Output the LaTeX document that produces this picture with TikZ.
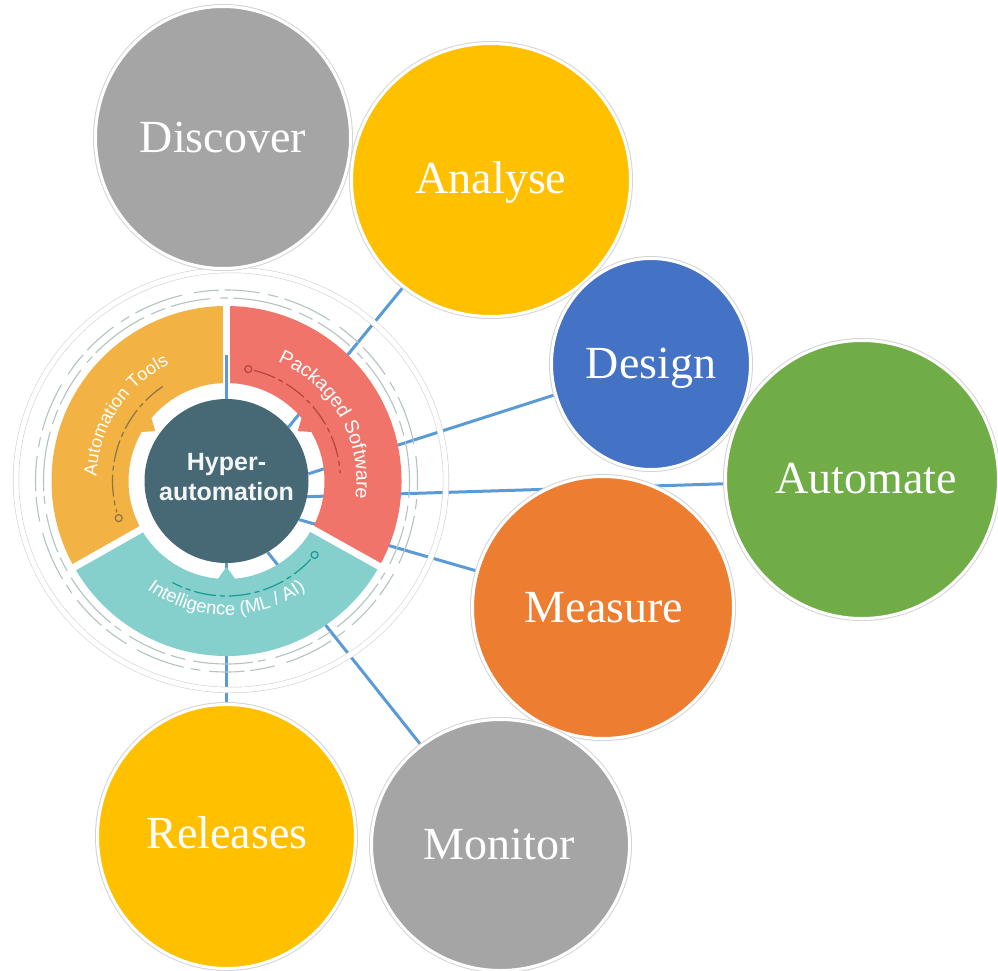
\documentclass[tikz,border=0pt]{standalone}
\usepackage{fontspec}
\setmainfont{Liberation Serif}
\newfontfamily\hubfont{Liberation Sans}
\usetikzlibrary{shapes.geometric,decorations.text}
\definecolor{grayC}{HTML}{A5A5A5}
\definecolor{yellowC}{HTML}{FFC000}
\definecolor{blueC}{HTML}{4472C4}
\definecolor{greenC}{HTML}{70AD47}
\definecolor{orangeC}{HTML}{ED7D31}
\definecolor{connC}{HTML}{5B9BD5}
\definecolor{hubC}{HTML}{466975}
\definecolor{segO}{HTML}{F2B244}
\definecolor{segR}{HTML}{F1746B}
\definecolor{segT}{HTML}{85D0CD}
\definecolor{decoO}{HTML}{8A7448}
\definecolor{decoR}{HTML}{B5443F}
\definecolor{decoT}{HTML}{169A92}
\definecolor{dashC}{HTML}{B3C2C2}
\pgfdeclarelayer{back}
\pgfdeclarelayer{lines}
\pgfsetlayers{back,lines,main}
\newcommand\segfontA{\hubfont\fontsize{18}{18}\selectfont}
\newcommand\segfontB{\hubfont\fontsize{19.5}{19.5}\selectfont}
\newcommand\segfontC{\hubfont\fontsize{18.5}{18.5}\selectfont}
\begin{document}
\begin{tikzpicture}[x=1pt,y=-1pt,
  bubble/.style={ellipse, inner sep=0pt, draw=white, line width=3pt,
    preaction={draw=black!17, line width=5pt}},
  lbl/.style={text=white, font=\fontsize{46}{52}\selectfont, anchor=base, inner sep=0pt},
  conn/.style={draw=connC, line width=3pt},
  decoarc/.style={line width=1.2pt, dash pattern=on 22pt off 4pt on 5pt off 4pt},
  outdash/.style={draw=dashC, line width=1.1pt},
  gapline/.style={draw=white, line width=7pt},
  segtext/.style={decorate, decoration={text along path, text align=center, text color=white}}]

\useasboundingbox (0,0) rectangle (998,971);
\begin{pgfonlayer}{back}
  \fill[white] (0,0) rectangle (998,971);
\end{pgfonlayer}

% ---------- hub ----------
\begin{scope}[shift={(226.5pt,-481pt)}, x=1pt, y=1pt]
  \draw[gray!35, line width=0.6pt, double=white, double distance=5pt]
    (4.5,1) ellipse[x radius=215, y radius=210];
  \draw[outdash, dash pattern=on 40pt off 6pt on 15pt off 8pt on 60pt off 5pt on 8pt off 10pt]
    (0,0) circle[radius=183];
  \draw[outdash, dash pattern=on 25pt off 12pt on 50pt off 7pt on 10pt off 9pt on 35pt off 6pt]
    (0,0) circle[radius=191];
  % segments
  \fill[segO] (90:175) arc[start angle=90, end angle=209.5, radius=175]
    -- (209.5:98) arc[start angle=209.5, end angle=150, radius=98]
    -- (145:87) -- (140:98) arc[start angle=140, end angle=90, radius=98] -- cycle;
  \fill[segR] (-29.2:175) arc[start angle=-29.2, end angle=90, radius=175]
    -- (90:98) arc[start angle=90, end angle=40, radius=98]
    -- (35:87) -- (30:98) arc[start angle=30, end angle=-29.2, radius=98] -- cycle;
  \fill[segT] (209.5:175) arc[start angle=209.5, end angle=330.8, radius=175]
    -- (330.8:98) arc[start angle=330.8, end angle=275, radius=98]
    -- (270:86) -- (265:98) arc[start angle=265, end angle=209.5, radius=98] -- cycle;
  \draw[gapline] (90:96) -- (90:180);
  \draw[gapline] (209.5:96) -- (209.5:180);
  \draw[gapline] (-29.2:96) -- (-29.2:180);
  % inner decorative arcs
  \draw[decoarc, draw=decoO] (124:114) arc[start angle=124, end angle=196, radius=114];
  \draw[draw=decoO, line width=1.2pt] (199:114) circle[radius=3.5];
  \draw[decoarc, draw=decoR] (76:114) arc[start angle=76, end angle=4, radius=114];
  \draw[draw=decoR, line width=1.2pt] (79:114) circle[radius=3.5];
  \draw[decoarc, draw=decoT] (-43:115) arc[start angle=-43, end angle=-118, radius=115];
  \draw[draw=decoT, line width=1.2pt] (-40:115) circle[radius=3.5];
  % curved labels
  \path[segtext, decoration={text={|\segfontA|Automation Tools}}]
    (197:130) arc[start angle=197, end angle=97, radius=130];
  \path[segtext, decoration={text={|\segfontB|Packaged Software}}]
    (79.5:130) arc[start angle=79.5, end angle=-20.5, radius=130];
  \path[segtext, decoration={text={|\segfontC|Intelligence (ML / AI)}}]
    (215:134) arc[start angle=215, end angle=325, radius=134];
  % centre
  \node[circle, fill=hubC, minimum size=164pt, inner sep=0pt] (hyper) at (0,0) {};
  \node[text=white!94!hubC, font=\hubfont\bfseries\fontsize{25}{30}\selectfont,
        align=center, inner sep=0pt] (hyperT) at (0,4) {Hyper-\\automation};
\end{scope}

\coordinate (eDi) at (226.5,355);
\draw[conn] (hyper.north) -- (eDi);

% ---------- bubbles ----------
\node[bubble, fill=grayC,   minimum width=255pt, minimum height=262pt] (dis) at (223,137.5) {};
\node[bubble, fill=yellowC, minimum width=279pt, minimum height=273pt] (ana) at (491,180) {};
\node[bubble, fill=blueC,   minimum width=199pt, minimum height=211pt] (des) at (651,364) {};
\node[bubble, fill=greenC,  minimum width=273pt, minimum height=278pt] (aut) at (862,479.5) {};
\node[bubble, fill=orangeC, minimum width=261pt, minimum height=262pt] (mea) at (603,607.5) {};
\node[bubble, fill=grayC,   minimum width=258pt, minimum height=251pt] (mon) at (500.5,845) {};
\node[bubble, fill=yellowC, minimum width=258pt, minimum height=264pt] (rel) at (226.5,836.5) {};

\node[lbl] (disT) at (223,152) {Discover};
\node[lbl] (anaT) at (491,193) {Analyse};
\node[lbl] (desT) at (651,378) {Design};
\node[lbl] (autT) at (866,493) {Automate};
\node[lbl] (meaT) at (604,622) {Measure};
\node[lbl] (monT) at (499,859) {Monitor};
\node[lbl] (relT) at (227,848) {Releases};

% ---------- connectors ----------
\begin{pgfonlayer}{lines}
  \draw[conn] (hyper.41) -- (ana);
  \draw[conn] (hyper.5) -- (des);
  \draw[conn] (hyper.349) -- (aut);
  \draw[conn] (hyper.332) -- (mea);
  \draw[conn] (hyper.300) -- (mon);
  \draw[conn] (hyper.south) -- (rel);
\end{pgfonlayer}
\end{tikzpicture}
\end{document}
